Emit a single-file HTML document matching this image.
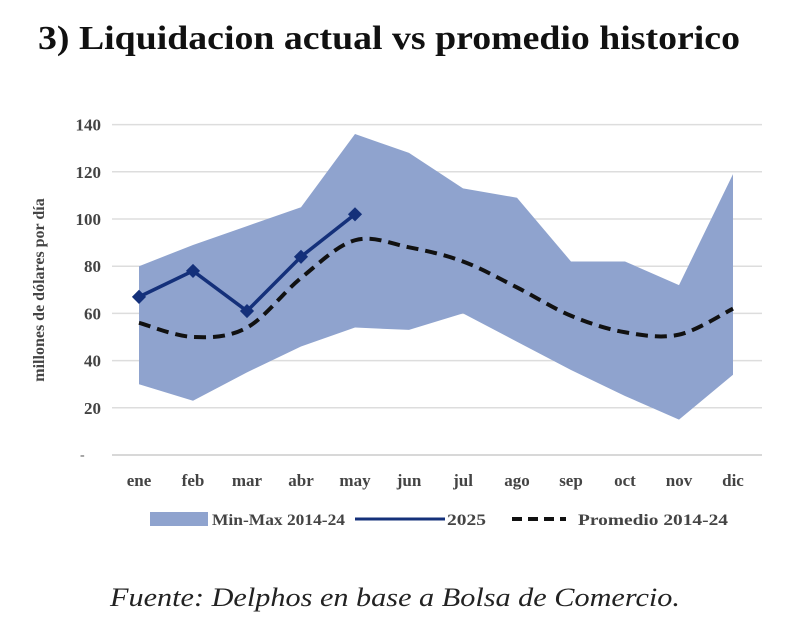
<!DOCTYPE html>
<html><head><meta charset="utf-8"><style>
body{margin:0;background:#fff;width:800px;height:633px;overflow:hidden;font-family:"Liberation Serif",serif}
</style></head><body>
<svg width="800" height="633">
<text x="38" y="49" textLength="702" lengthAdjust="spacingAndGlyphs" font-size="34" font-weight="bold" fill="#111">3) Liquidacion actual vs promedio historico</text>
<g id="grid"></g>
<g id="plot"></g>
<text transform="translate(44,290) rotate(-90)" text-anchor="middle" font-size="16" font-weight="bold" fill="#444">millones de dólares por día</text>
<g id="legend" font-size="16" font-weight="bold" fill="#444">
<rect x="150" y="512" width="58" height="14" fill="#8fa3ce"/>
<text x="212" y="525" textLength="133" lengthAdjust="spacingAndGlyphs">Min-Max 2014-24</text>
<line x1="355" y1="519" x2="445" y2="519" stroke="#14307a" stroke-width="3"/>
<text x="447" y="525" textLength="39" lengthAdjust="spacingAndGlyphs">2025</text>
<line x1="512" y1="519" x2="566" y2="519" stroke="#111" stroke-width="4" stroke-dasharray="10,6"/>
<text x="578" y="525" textLength="150" lengthAdjust="spacingAndGlyphs">Promedio 2014-24</text>
</g>
<text x="110" y="606" textLength="570" lengthAdjust="spacingAndGlyphs" font-size="26" font-style="italic" fill="#222">Fuente: Delphos en base a Bolsa de Comercio.</text>
</svg>
<script>
const months=["ene","feb","mar","abr","may","jun","jul","ago","sep","oct","nov","dic"];
const maxVals=[80,89,97,105,136,128,113,109,82,82,72,119];
const minVals=[30,23,35,46,54,53,60,48,36,25,15,34];
const vals2025=[67,78,61,84,102];
const avgVals=[56,50,54,75,91,88,82,71,59,52,51,62];
const yTicks=[20,40,60,80,100,120,140];
const NS="http://www.w3.org/2000/svg";
const X=i=>139+i*54;
const Y=v=>455-v*2.36;
function mk(tag,attrs,parent){const e=document.createElementNS(NS,tag);for(const k in attrs)e.setAttribute(k,attrs[k]);parent.appendChild(e);return e;}
const grid=document.getElementById('grid'),plot=document.getElementById('plot');
yTicks.forEach(t=>{
 const l=mk('line',{x1:112,x2:762,y1:Y(t),y2:Y(t),stroke:'#ddd','stroke-width':1.5},grid);
 
 
 const tx=mk('text',{x:101,y:Y(t)+6,'text-anchor':'end','font-size':17,'font-weight':'bold',fill:'#444'},grid);
 tx.textContent=t;
 
 
});
const z=mk('text',{x:80,y:Y(0)+4,'font-size':14,fill:'#555'},grid);z.textContent='-';


const ax=mk('line',{x1:112,x2:762,y1:Y(0),y2:Y(0),stroke:'#ccc','stroke-width':1.5},grid);


months.forEach((m,i)=>{
 const t=mk('text',{x:X(i),y:486,'text-anchor':'middle','font-size':17,'font-weight':'bold',fill:'#444'},grid);
 t.textContent=m;
 
 
});
let pts=maxVals.map((v,i)=>X(i)+','+Y(v)).concat(minVals.map((v,i)=>X(i)+','+Y(v)).reverse());
const band=mk('polygon',{points:pts.join(' '),fill:'#8fa3ce'},plot);


let d='M'+X(0)+','+Y(avgVals[0]);
for(let i=0;i<avgVals.length-1;i++){
 const p0=[X(Math.max(i-1,0)),Y(avgVals[Math.max(i-1,0)])],p1=[X(i),Y(avgVals[i])],p2=[X(i+1),Y(avgVals[i+1])],p3=[X(Math.min(i+2,11)),Y(avgVals[Math.min(i+2,11)])];
 const c1=[p1[0]+(p2[0]-p0[0])/6,p1[1]+(p2[1]-p0[1])/6],c2=[p2[0]-(p3[0]-p1[0])/6,p2[1]-(p3[1]-p1[1])/6];
 d+=` C${c1} ${c2} ${p2}`;
}
const avg=mk('path',{d:d,fill:'none',stroke:'#111','stroke-width':4,'stroke-dasharray':'12,7'},plot);


const l25=mk('polyline',{points:vals2025.map((v,i)=>X(i)+','+Y(v)).join(' '),fill:'none',stroke:'#14307a','stroke-width':3.5},plot);


vals2025.forEach((v,i)=>{
 const m=mk('rect',{x:X(i)-5,y:Y(v)-5,width:10,height:10,fill:'#14307a',transform:`rotate(45 ${X(i)} ${Y(v)})`},plot);
 
 
});
</script>
</body></html>
